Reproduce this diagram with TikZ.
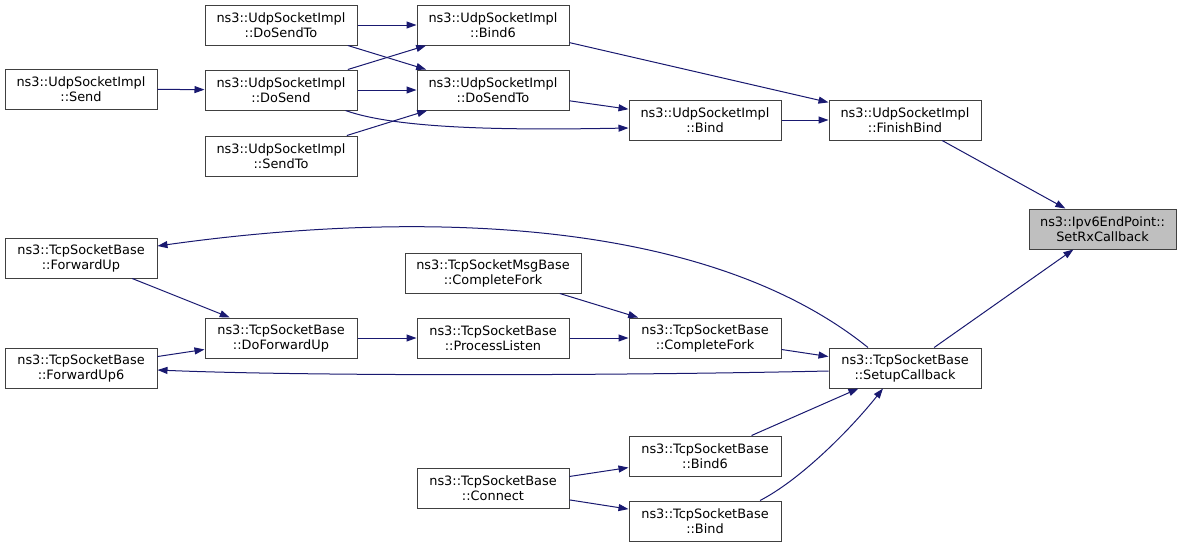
\documentclass[tikz,border=0pt]{standalone}
\usepackage{fontspec}
\setmainfont{DejaVu Sans}
\usetikzlibrary{arrows.meta}
\definecolor{edgec}{RGB}{25,25,112}
\definecolor{boxc}{RGB}{64,64,64}
\definecolor{hlfill}{RGB}{191,191,191}
\begin{document}
\begin{tikzpicture}[x=1pt,y=-1pt,
  fn/.style={draw=boxc,line width=1pt,fill=white,minimum width=152pt,minimum height=40pt,inner sep=0pt,align=center,font=\fontsize{12.9}{15}\selectfont},
  hl/.style={fn,fill=hlfill,minimum width=147pt},
  call/.style={draw=edgec,line width=1pt,-{Triangle[length=10pt,width=7pt]},color=edgec}]
\useasboundingbox (0,0) rectangle (1181,547);
\node[fn] (dst1) at (281,25) {ns3::UdpSocketImpl\\::DoSendTo};
\node[fn] (bindsix) at (493,25) {ns3::UdpSocketImpl\\::Bind6};
\node[fn] (send) at (81,89) {ns3::UdpSocketImpl\\::Send};
\node[fn] (dosend) at (281,90) {ns3::UdpSocketImpl\\::DoSend};
\node[fn] (dst2) at (493,90) {ns3::UdpSocketImpl\\::DoSendTo};
\node[fn] (sendto) at (281,156) {ns3::UdpSocketImpl\\::SendTo};
\node[fn] (bindu) at (705,120) {ns3::UdpSocketImpl\\::Bind};
\node[fn] (finish) at (905,120) {ns3::UdpSocketImpl\\::FinishBind};
\node[hl] (setrx) at (1102.5,229) {ns3::Ipv6EndPoint::\\SetRxCallback};
\node[fn] (fwd) at (81,258) {ns3::TcpSocketBase\\::ForwardUp};
\node[fn,minimum width=176pt] (msgfork) at (493,273) {ns3::TcpSocketMsgBase\\::CompleteFork};
\node[fn] (dofwd) at (281,338) {ns3::TcpSocketBase\\::DoForwardUp};
\node[fn] (plisten) at (493,338) {ns3::TcpSocketBase\\::ProcessListen};
\node[fn] (cfork) at (705,338) {ns3::TcpSocketBase\\::CompleteFork};
\node[fn] (fwdsix) at (81,368) {ns3::TcpSocketBase\\::ForwardUp6};
\node[fn] (setup) at (905,368) {ns3::TcpSocketBase\\::SetupCallback};
\node[fn] (tbindsix) at (705,456) {ns3::TcpSocketBase\\::Bind6};
\node[fn] (connect) at (493,488) {ns3::TcpSocketBase\\::Connect};
\node[fn] (tbind) at (705,521) {ns3::TcpSocketBase\\::Bind};
% UDP edges
\draw[call] (dst1) -- (bindsix);
\draw[call] (dst1) -- (dst2);
\draw[call] (send) -- (dosend);
\draw[call] (dosend) -- (bindsix);
\draw[call] (dosend) -- (dst2);
\draw[call] ([xshift=-12pt]dosend.south east) .. controls (400,130) and (520,130) .. ([yshift=-8pt]bindu.west);
\draw[call] (sendto) -- (dst2);
\draw[call] (dst2) -- (bindu);
\draw[call] (bindsix) -- (finish);
\draw[call] (bindu) -- (finish);
\draw[call] (finish) -- (setrx);
% TCP edges
\draw[call] (setup) -- (setrx);
\draw[call] ([xshift=-37pt]setup.north) .. controls (700,212) and (400,212) .. ([yshift=12pt]fwd.east);
\draw[call] ([yshift=-3pt]setup.west) .. controls (600,376) and (300,376) .. ([yshift=-2pt]fwdsix.east);
\draw[call] (fwd) -- (dofwd);
\draw[call] (fwdsix) -- (dofwd);
\draw[call] (dofwd) -- (plisten);
\draw[call] (plisten) -- (cfork);
\draw[call] (msgfork) -- (cfork);
\draw[call] (cfork) -- (setup);
\draw[call] (tbindsix) -- (setup);
\draw[call] ([xshift=55pt]tbind.north) .. controls (800,480) and (850,430) .. ([xshift=-22pt]setup.south);
\draw[call] (connect) -- (tbindsix);
\draw[call] (connect) -- (tbind);
\end{tikzpicture}
\end{document}
